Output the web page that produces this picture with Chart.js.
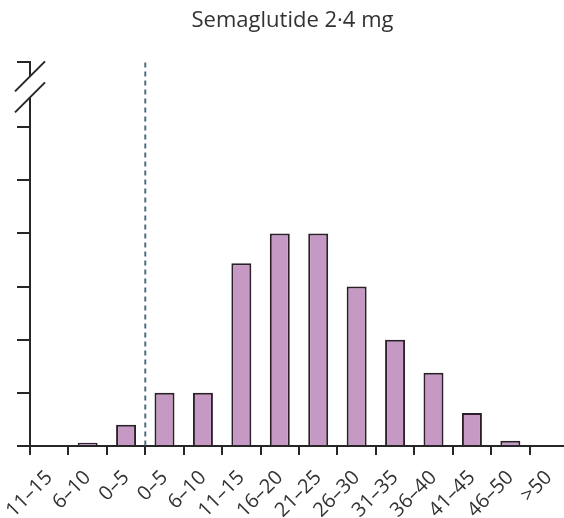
<!DOCTYPE html>
<html>
<head>
<meta charset="utf-8">
<script src="https://cdn.jsdelivr.net/npm/chart.js@4"></script>
<style>
  html, body { margin: 0; padding: 0; background: #fff; overflow: hidden; }
  #wrap { width: 568px; height: 518px; position: relative; }
</style>
</head>
<body>
<div id="wrap"><canvas id="c"></canvas></div>
<script>
// Weight-change categories (%), gain on the left of the dashed line, loss on the right
const categories = ['11–15', '6–10', '0–5', '0–5', '6–10', '11–15', '16–20', '21–25', '26–30', '31–35', '36–40', '41–45', '46–50', '>50'];
// Share of participants in each category (%)
const shares = [0, 0.3, 2, 5, 5, 17.2, 20, 20, 15, 10, 6.9, 3.1, 0.5, 0];
// Unlabelled y ticks below the axis break, and the value at the top of the broken axis
const yTickValues = [0, 5, 10, 15, 20, 25, 30];
const yAxisTop = 36.1;
// Index of the last weight-gain category; the dashed divider sits after it
const lastGainIndex = 2;

const INK = '#262626';

// Vertical dashed divider between gain and loss categories
const dividerPlugin = {
  id: 'divider',
  afterDatasetsDraw(chart) {
    const { ctx, chartArea, scales } = chart;
    const x = (scales.x.getPixelForValue(lastGainIndex) + scales.x.getPixelForValue(lastGainIndex + 1)) / 2;
    ctx.save();
    ctx.strokeStyle = '#4f6f7c';
    ctx.lineWidth = 2;
    ctx.setLineDash([5, 4]);
    ctx.beginPath();
    ctx.moveTo(x, chartArea.top);
    ctx.lineTo(x, chartArea.bottom);
    ctx.stroke();
    ctx.restore();
  }
};

// Break marks on the y axis between the last regular tick and the top tick
const axisBreakPlugin = {
  id: 'axisBreak',
  afterDraw(chart) {
    const { ctx, chartArea } = chart;
    const x = chartArea.left;
    const yA = chartArea.top + 14;   // upper slash crosses axis here
    const yB = chartArea.top + 35;   // lower slash crosses axis here
    ctx.save();
    ctx.fillStyle = '#fff';
    ctx.fillRect(x - 3, yA, 6, yB - yA);
    ctx.strokeStyle = INK;
    ctx.lineWidth = 2;
    ctx.beginPath();
    ctx.moveTo(x - 15, yA + 15); ctx.lineTo(x + 15, yA - 15);
    ctx.moveTo(x - 15, yB + 15); ctx.lineTo(x + 15, yB - 15);
    ctx.stroke();
    ctx.restore();
  }
};

new Chart(document.getElementById('c'), {
  type: 'bar',
  data: {
    labels: categories,
    datasets: [{
      data: shares,
      backgroundColor: '#c699c5',
      borderColor: '#2b2029',
      borderWidth: (c) => (c.raw > 0 ? 2 : 0),
      borderSkipped: 'bottom',
      barPercentage: 0.52,
      categoryPercentage: 1
    }]
  },
  options: {
    responsive: true,
    maintainAspectRatio: false,
    animation: false,
    layout: { padding: { left: 17, right: 0, top: 0, bottom: 0 } },
    plugins: {
      legend: { display: false },
      tooltip: { enabled: false },
      title: {
        display: true,
        text: 'Semaglutide 2·4 mg',
        color: '#333',
        font: { family: 'Open Sans', size: 22, weight: 'normal' },
        padding: { top: 8, bottom: 28 }
      }
    },
    scales: {
      x: {
        offset: true,
        afterFit(scale) {
          // fixed room for the rotated category labels; no side padding
          scale.height = 72;
          scale.paddingLeft = 0;
          scale.paddingRight = 0;
        },
        grid: { display: true, offset: true, drawOnChartArea: false, drawTicks: true, tickLength: 9, color: INK, lineWidth: 2 },
        border: { display: true, color: INK, width: 2 },
        ticks: {
          color: '#333',
          font: { family: 'Open Sans', size: 20 },
          minRotation: 45,
          maxRotation: 45,
          autoSkip: false,
          padding: 11
        }
      },
      y: {
        min: 0,
        max: yAxisTop,
        afterBuildTicks(scale) {
          scale.ticks = yTickValues.concat([yAxisTop]).map(v => ({ value: v }));
        },
        grid: { display: true, drawOnChartArea: false, drawTicks: true, tickLength: 13, color: INK, lineWidth: 2 },
        border: { display: true, color: INK, width: 2 },
        ticks: { display: false }
      }
    }
  },
  plugins: [dividerPlugin, axisBreakPlugin]
});
</script>
</body>
</html>
